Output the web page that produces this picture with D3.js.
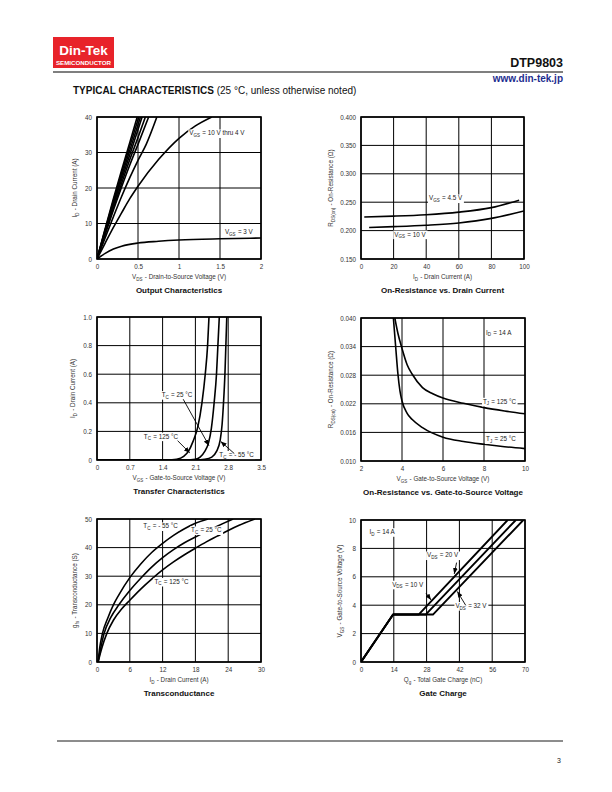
<!DOCTYPE html>
<html><head><meta charset="utf-8">
<script src="https://cdn.jsdelivr.net/npm/d3@7"></script>
<style>body{margin:0;background:#fff}svg{display:block}text{font-family:"Liberation Sans",Arial,sans-serif}</style>
</head><body>
<svg id="c" width="612" height="792"></svg>
<script>
// ---------- DATA ----------
// Panel 1: Output characteristics (VDS, ID)
const outVgs10 = [[0,0],[0.1,8.6],[0.2,17],[0.3,25],[0.4,32.8],[0.49,40]];
const outVgs8  = [[0,0],[0.1,8.3],[0.2,16.4],[0.3,24.2],[0.4,31.8],[0.51,40]];
const outVgs6  = [[0,0],[0.1,8.0],[0.2,15.8],[0.3,23.3],[0.4,30.6],[0.53,40]];
const outVgs5  = [[0,0],[0.1,7.7],[0.2,15.2],[0.3,22.4],[0.4,29.4],[0.55,40]];
const outVgs45 = [[0,0],[0.1,7.3],[0.2,14.4],[0.3,21.3],[0.4,28],[0.5,34.2],[0.59,40]];
const outVgs4  = [[0,0],[0.1,7.0],[0.2,13.8],[0.3,20.3],[0.4,26.5],[0.5,32.3],[0.63,40]];
const outVgs37 = [[0,0],[0.1,6.0],[0.2,11.9],[0.3,17.6],[0.4,22.9],[0.5,27.8],[0.6,32.3],[0.73,40]];
const outVgs35 = [[0,0],[0.1,4.5],[0.2,8.9],[0.3,13],[0.4,17],[0.5,20.5],[0.75,28],[1.0,34],[1.2,37.5],[1.4,40]];
const outVgs3  = [[0,0],[0.1,1.6],[0.2,2.8],[0.3,3.6],[0.5,4.5],[0.75,5.0],[1.0,5.35],[1.5,5.7],[2.0,5.9]];
const outXTicks = [0,0.5,1,1.5,2];
const outYTicks = [0,10,20,30,40];

// Panel 2: On-resistance vs drain current
const rdsId45 = [[2,0.224],[20,0.2255],[40,0.228],[60,0.2325],[80,0.2405],[97,0.2535]];
const rdsId10 = [[5,0.2055],[20,0.207],[40,0.2095],[60,0.2135],[80,0.2215],[100,0.2345]];
const rdsIdXTicks = [0,20,40,60,80,100];
const rdsIdYTicks = [0.150,0.200,0.250,0.300,0.350,0.400];

// Panel 3: Transfer characteristics (VGS, ID)
const tr125 = [[0,0],[1.5,0],[1.7,0.005],[1.85,0.025],[1.95,0.06],[2.05,0.13],[2.15,0.23],[2.24,0.4],[2.31,0.6],[2.36,0.8],[2.39,1.0]];
const tr25  = [[0,0],[1.9,0],[2.1,0.005],[2.2,0.02],[2.3,0.06],[2.38,0.12],[2.44,0.22],[2.5,0.4],[2.55,0.6],[2.58,0.8],[2.61,1.0]];
const trM55 = [[0,0],[2.1,0],[2.3,0.005],[2.45,0.02],[2.55,0.06],[2.63,0.14],[2.67,0.25],[2.7,0.4],[2.73,0.6],[2.75,0.8],[2.77,1.0]];
const trXTicks = [0,0.7,1.4,2.1,2.8,3.5];
const trYTicks = [0,0.2,0.4,0.6,0.8,1.0];

// Panel 4: On-resistance vs VGS
const rdsVgs125 = [[3.65,0.040],[3.8,0.0368],[4.0,0.0336],[4.25,0.0302],[4.5,0.0282],[5,0.0254],[5.5,0.0241],[6,0.0232],[7,0.0221],[8,0.0212],[9,0.0205],[10,0.0199]];
const rdsVgs25  = [[3.58,0.040],[3.7,0.0335],[3.8,0.0283],[3.9,0.0247],[4.0,0.0226],[4.25,0.0200],[4.5,0.0187],[5,0.0170],[6,0.0150],[7,0.0141],[8,0.0135],[9,0.0130],[10,0.0126]];
const rdsVgsXTicks = [2,4,6,8,10];
const rdsVgsYTicks = [0.010,0.016,0.022,0.028,0.034,0.040];

// Panel 5: Transconductance (ID, gfs)
const gfsM55 = [[0.2,0],[0.5,5],[1,10],[2,15.5],[3,20],[4,23.5],[6,29.5],[8,34.3],[10,38.3],[12,41.5],[14,44.3],[16,46.6],[18,48.5],[20.3,50]];
const gfs25  = [[0.2,0],[0.7,5],[1.3,10],[2.5,15.5],[4,20],[6,25],[8,29.3],[10,33.2],[12,36.5],[14,39.3],[16,41.7],[18,43.7],[20,45.6],[22,47.5],[24.9,50]];
const gfs125 = [[0.2,0],[0.9,5],[1.8,10],[3,14.6],[4.5,18.5],[6,21.6],[8,25.5],[10,29],[12,32.2],[14,35],[16,37.5],[18,39.8],[20,42],[22,44],[24,46],[26,47.8],[28.9,50]];
const gfsXTicks = [0,6,12,18,24,30];
const gfsYTicks = [0,10,20,30,40,50];

// Panel 6: Gate charge (Qg, VGS)
const qg10 = [[0,0],[13.7,3.34],[24.6,3.34],[62.6,10]];
const qg20 = [[0,0],[13.7,3.34],[27.6,3.34],[66.1,10]];
const qg32 = [[0,0],[13.7,3.34],[30.7,3.34],[69.3,10]];
const qgXTicks = [0,14,28,42,56,70];
const qgYTicks = [0,2,4,6,8,10];

// ---------- DRAWING ----------
const svg = d3.select("#c");
const FONT = '"Liberation Sans", Arial, sans-serif';

svg.append("defs").append("marker")
  .attr("id","arr").attr("viewBox","0 0 10 10").attr("refX",10).attr("refY",5)
  .attr("markerWidth",6).attr("markerHeight",6).attr("markerUnits","userSpaceOnUse")
  .attr("orient","auto")
  .append("path").attr("d","M0,1 L10,5 L0,9 z").attr("fill","#000");

// rich text: "_{...}" -> subscript
function rich(sel, str, size){
  const re = /_\{([^}]*)\}/g; let last=0, m;
  while((m = re.exec(str))){
    if(m.index>last) sel.append("tspan").text(str.slice(last,m.index));
    sel.append("tspan").attr("font-size",size*0.72).attr("dy",size*0.25).text(m[1]);
    sel.append("tspan").attr("dy",-size*0.25).text("\u200A");
    last = re.lastIndex;
  }
  if(last<str.length) sel.append("tspan").text(str.slice(last));
  return sel;
}

function panel(cfg){
  const g = svg.append("g");
  const x = d3.scaleLinear().domain(cfg.xd).range([cfg.x0,cfg.x1]);
  const y = d3.scaleLinear().domain(cfg.yd).range([cfg.y1,cfg.y0]);
  const cid = "clip"+cfg.id;
  svg.select("defs").append("clipPath").attr("id",cid)
    .append("rect").attr("x",cfg.x0).attr("y",cfg.y0).attr("width",cfg.x1-cfg.x0).attr("height",cfg.y1-cfg.y0);
  // grid
  g.append("g").selectAll("line").data(cfg.xt).join("line")
    .attr("x1",d=>x(d)).attr("x2",d=>x(d)).attr("y1",cfg.y0).attr("y2",cfg.y1)
    .attr("stroke","#000").attr("stroke-width",1);
  g.append("g").selectAll("line").data(cfg.yt).join("line")
    .attr("y1",d=>y(d)).attr("y2",d=>y(d)).attr("x1",cfg.x0).attr("x2",cfg.x1)
    .attr("stroke","#000").attr("stroke-width",1);
  // axes (tick labels via d3 axis)
  const xa = d3.axisBottom(x).tickValues(cfg.xt).tickSize(0).tickPadding(6).tickFormat(cfg.xf);
  const ya = d3.axisLeft(y).tickValues(cfg.yt).tickSize(0).tickPadding(5).tickFormat(cfg.yf);
  const gx = g.append("g").attr("transform",`translate(0,${cfg.y1})`).call(xa);
  const gy = g.append("g").attr("transform",`translate(${cfg.x0},0)`).call(ya);
  [gx,gy].forEach(a=>{a.select(".domain").remove();
    a.selectAll("text").attr("font-family",FONT).attr("font-size",6.3).attr("fill","#333");});
  // curves
  const line = d3.line().x(d=>x(d[0])).y(d=>y(d[1])).curve(cfg.curve||d3.curveMonotoneX);
  g.append("g").attr("clip-path",`url(#${cid})`).selectAll("path").data(cfg.series).join("path")
    .attr("d",line).attr("fill","none").attr("stroke","#000").attr("stroke-width",cfg.sw||1.6)
    .attr("stroke-linejoin","round");
  // labels with white background
  (cfg.labels||[]).forEach(l=>{
    const bg = g.append("rect").attr("fill","#fff");
    const t = rich(g.append("text").attr("x",x(l[0])).attr("y",y(l[1])).attr("text-anchor",l[3]||"start")
      .attr("font-size",6.3).attr("fill","#222"), l[2], 6.3);
    const b = t.node().getBBox();
    bg.attr("x",b.x-1).attr("y",b.y).attr("width",b.width+2).attr("height",b.height);
  });
  (cfg.arrows||[]).forEach(a=>{
    g.append("line").attr("x1",x(a[0])).attr("y1",y(a[1])).attr("x2",x(a[2])).attr("y2",y(a[3]))
      .attr("stroke","#000").attr("stroke-width",0.9).attr("marker-end","url(#arr)");
  });
  // frame
  g.append("rect").attr("x",cfg.x0).attr("y",cfg.y0).attr("width",cfg.x1-cfg.x0).attr("height",cfg.y1-cfg.y0)
    .attr("fill","none").attr("stroke","#000").attr("stroke-width",1.6);
  // axis titles
  const xc = (cfg.x0+cfg.x1)/2, yc=(cfg.y0+cfg.y1)/2;
  rich(g.append("text").attr("x",xc).attr("y",cfg.y1+20).attr("text-anchor","middle")
    .attr("font-size",6.3).attr("fill","#333"), cfg.xtitle, 6.3);
  rich(g.append("text").attr("transform",`translate(${cfg.ytx},${yc}) rotate(-90)`).attr("text-anchor","middle")
    .attr("font-size",6.3).attr("fill","#333"), cfg.ytitle, 6.3);
  g.append("text").attr("x",xc).attr("y",cfg.y1+34).attr("text-anchor","middle")
    .attr("font-size",8).attr("font-weight","bold").attr("fill","#111").text(cfg.title);
}

const f1 = d3.format(".1f"), f3 = d3.format(".3f"), fp = d=>String(d);

panel({id:1,x0:97,x1:261,y0:117,y1:259,xd:[0,2],yd:[0,40],xt:outXTicks,yt:outYTicks,xf:fp,yf:fp,
  series:[outVgs10,outVgs8,outVgs6,outVgs5,outVgs45,outVgs4,outVgs37,outVgs35,outVgs3],
  xtitle:"V_{DS} - Drain-to-Source Voltage (V)", ytitle:"I_{D} - Drain Current (A)", ytx:77,
  title:"Output Characteristics",
  labels:[[1.126,34.8,"V_{GS} = 10 V thru 4 V"],[1.56,7.0,"V_{GS} = 3 V"]]});

panel({id:2,x0:361,x1:524,y0:117,y1:259,xd:[0,100],yd:[0.15,0.40],xt:rdsIdXTicks,yt:rdsIdYTicks,xf:fp,yf:f3,
  series:[rdsId45,rdsId10],
  xtitle:"I_{D} - Drain Current (A)", ytitle:"R_{DS(on)} - On-Resistance (\u03A9)", ytx:333,
  title:"On-Resistance vs. Drain Current",
  labels:[[41.7,0.253,"V_{GS} = 4.5 V"],[20.4,0.1895,"V_{GS} = 10 V"]]});

panel({id:3,x0:97,x1:261,y0:317,y1:460,xd:[0,3.5],yd:[0,1],xt:trXTicks,yt:trYTicks,
  xf:d=>d===0?"0":String(d), yf:d=>d===0?"0":f1(d),
  series:[tr125,tr25,trM55],
  xtitle:"V_{GS} - Gate-to-Source Voltage (V)", ytitle:"I_{D} - Drain Current (A)", ytx:75,
  title:"Transfer Characteristics",
  labels:[[1.38,0.44,"T_{C} = 25 \u00B0C"],[1.0,0.15,"T_{C} = 125 \u00B0C"],[2.61,0.021,"T_{C} = - 55 \u00B0C"]],
  arrows:[[1.84,0.425,2.39,0.10],[1.72,0.135,1.98,0.05],[2.93,0.045,2.64,0.13]]});

panel({id:4,x0:361,x1:525,y0:318,y1:461,xd:[2,10],yd:[0.010,0.040],xt:rdsVgsXTicks,yt:rdsVgsYTicks,xf:fp,yf:f3,
  series:[rdsVgs125,rdsVgs25],
  xtitle:"V_{GS} - Gate-to-Source Voltage (V)", ytitle:"R_{DS(on)} - On-Resistance (\u03A9)", ytx:333,
  title:"On-Resistance vs. Gate-to-Source Voltage",
  labels:[[8.1,0.0365,"I_{D} = 14 A"],[7.95,0.0220,"T_{J} = 125 \u00B0C"],[8.1,0.0141,"T_{J} = 25 \u00B0C"]]});

panel({id:5,x0:97,x1:261,y0:519,y1:662,xd:[0,30],yd:[0,50],xt:gfsXTicks,yt:gfsYTicks,xf:fp,yf:fp,
  series:[gfsM55,gfs25,gfs125],
  xtitle:"I_{D} - Drain Current (A)", ytitle:"g_{fs} - Transconductance (S)", ytx:77,
  title:"Transconductance",
  labels:[[8.47,46.7,"T_{C} = - 55 \u00B0C"],[17.2,45.3,"T_{C} = 25 \u00B0C"],[10.5,27.3,"T_{C} = 125 \u00B0C"]]});

panel({id:6,x0:361,x1:525,y0:520,y1:662,xd:[0,70],yd:[0,10],xt:qgXTicks,yt:qgYTicks,xf:fp,yf:fp,
  series:[qg10,qg20,qg32], curve:d3.curveLinear, sw:1.9,
  xtitle:"Q_{g} - Total Gate Charge (nC)", ytitle:"V_{GS} - Gate-to-Source Voltage (V)", ytx:342,
  title:"Gate Charge",
  labels:[[3.6,9.0,"I_{D} = 14 A"],[28.2,7.36,"V_{DS} = 20 V"],[13.3,5.3,"V_{DS} = 10 V"],[40.3,3.8,"V_{DS} = 32 V"]],
  arrows:[[27.7,4.86,29.9,4.37],[40.8,7.0,39.8,6.2],[44.7,3.99,41.1,4.97]]});

// ---------- HEADER / FOOTER ----------
svg.append("rect").attr("x",53).attr("y",37).attr("width",61).attr("height",31).attr("fill","#e8232a");
svg.append("text").attr("x",83.5).attr("y",55).attr("text-anchor","middle").attr("font-size",13.5)
  .attr("font-weight","bold").attr("fill","#fff").text("Din-Tek");
svg.append("text").attr("x",56).attr("y",64.5).attr("font-size",5.6).attr("font-weight","bold")
  .attr("fill","#fff").attr("textLength",55).attr("lengthAdjust","spacingAndGlyphs").text("SEMICONDUCTOR");
svg.append("text").attr("x",563).attr("y",67).attr("text-anchor","end").attr("font-size",12.5)
  .attr("font-weight","bold").attr("fill","#111").text("DTP9803");
svg.append("line").attr("x1",53).attr("x2",563).attr("y1",72).attr("y2",72).attr("stroke","#000").attr("stroke-width",1.1);
svg.append("text").attr("x",563).attr("y",81.5).attr("text-anchor","end").attr("font-size",10)
  .attr("font-weight","bold").attr("fill","#1d2d8f").text("www.din-tek.jp");
const tt = svg.append("text").attr("x",73).attr("y",94).attr("fill","#111");
tt.append("tspan").attr("font-size",10).attr("font-weight","bold").text("TYPICAL CHARACTERISTICS ");
tt.append("tspan").attr("font-size",10).text("(25 \u00B0C, unless otherwise noted)");
svg.append("line").attr("x1",57).attr("x2",563).attr("y1",741).attr("y2",741).attr("stroke","#000").attr("stroke-width",0.9);
svg.append("text").attr("x",561).attr("y",763).attr("text-anchor","end").attr("font-size",7).attr("fill","#222").text("3");
</script>
</body></html>
